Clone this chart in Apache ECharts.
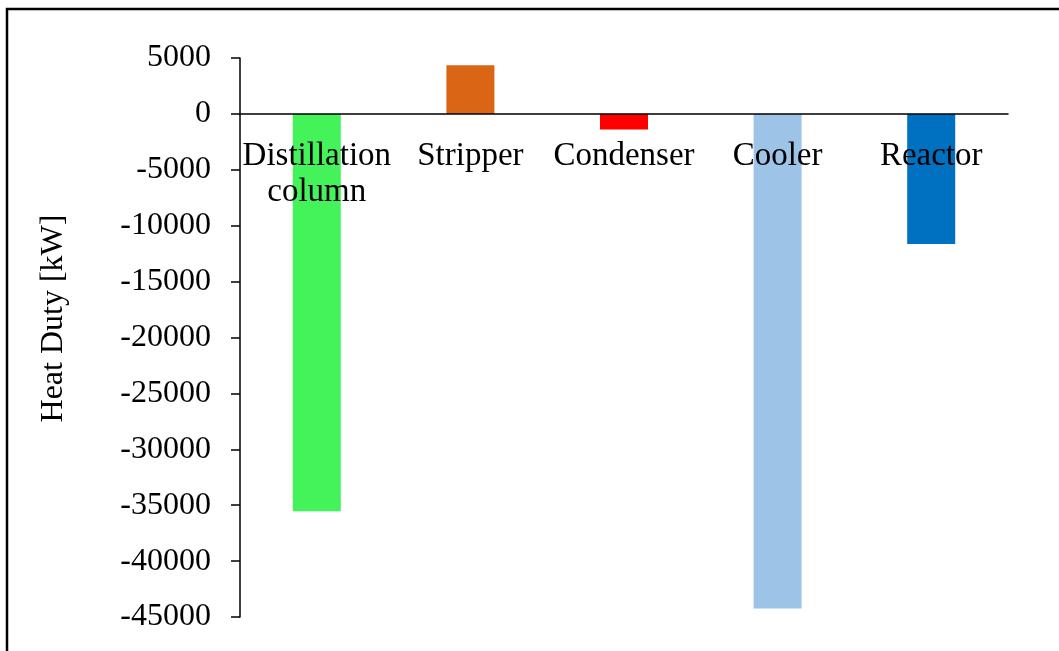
<!DOCTYPE html>
<html>
<head>
<meta charset="utf-8">
<script src="https://cdn.jsdelivr.net/npm/echarts@6/dist/echarts.min.js"></script>
<style>
  html, body { margin: 0; padding: 0; background: #fff; }
  #chart { width: 1059px; height: 651px; }
</style>
</head>
<body>
<div id="chart"></div>
<script>
// equipment and heat duty values [kW]
const categories = ['Distillation\ncolumn', 'Stripper', 'Condenser', 'Cooler', 'Reactor'];
const heatDuty = [-35550, 4350, -1400, -44250, -11630];
const barColors = ['#44F35A', '#DA6515', '#FF0000', '#9DC3E6', '#0070C0'];

const chart = echarts.init(document.getElementById('chart'));
const font = 'Liberation Serif, Times New Roman, serif';

chart.setOption({
  animation: false,
  textStyle: { fontFamily: font },
  graphic: [{
    type: 'rect',
    shape: { x: 7, y: 9, width: 1200, height: 800 },
    style: { fill: 'none', stroke: '#000', lineWidth: 2.5 },
    silent: true
  }],
  grid: { left: 240, right: 51, top: 58, bottom: 34, containLabel: false, outerBoundsMode: 'none' },
  xAxis: {
    type: 'category',
    data: categories,
    axisLine: { onZero: true, lineStyle: { color: '#000', width: 1.5 } },
    axisTick: { show: false },
    axisLabel: {
      color: '#000', fontSize: 33, fontFamily: font,
      // labels sit just under the zero line, inside the plot
      margin: -479, lineHeight: 36, interval: 0
    },
    z: 10
  },
  yAxis: {
    type: 'value',
    min: -45000,
    max: 5000,
    interval: 5000,
    name: 'Heat Duty [kW]',
    nameLocation: 'middle',
    nameGap: 170,
    nameTextStyle: { color: '#000', fontSize: 32, fontFamily: font, padding: [0, 0, 0, 38] },
    axisLine: { show: true, lineStyle: { color: '#000', width: 1.5 } },
    axisTick: { show: true, length: 9, lineStyle: { color: '#000', width: 1.5 } },
    splitLine: { show: false },
    axisLabel: {
      color: '#000', fontSize: 32, fontFamily: font, margin: 29,
      formatter: v => String(v)
    }
  },
  series: [{
    type: 'bar',
    barWidth: 48,
    data: heatDuty.map((v, i) => ({ value: v, itemStyle: { color: barColors[i] } }))
  }]
});
</script>
</body>
</html>
